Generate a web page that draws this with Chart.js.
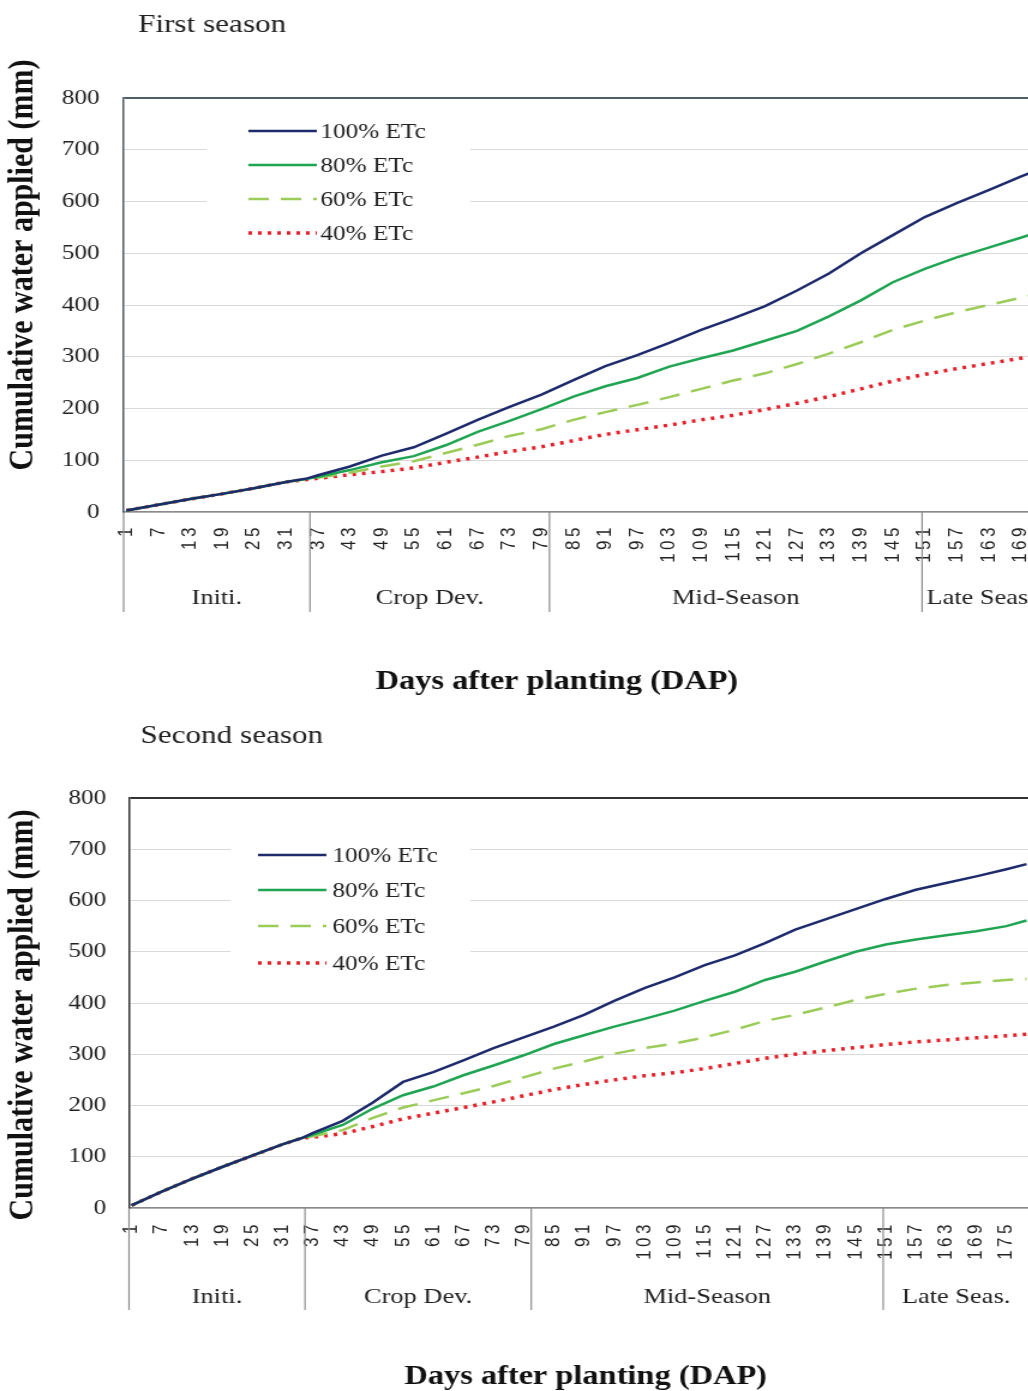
<!DOCTYPE html>
<html>
<head>
<meta charset="utf-8">
<title>Cumulative water applied</title>
<script src="https://cdn.jsdelivr.net/npm/chart.js@4.4.0/dist/chart.umd.min.js"></script>
<style>
  html, body { margin: 0; padding: 0; background: #fff; overflow: hidden; width: 1028px; height: 1391px; }
  canvas { position: absolute; left: 0; }
</style>
</head>
<body>
<!-- the original figure is a horizontally stretched picture: draw at 870px, show at 1044px -->
<canvas id="season1" width="870" height="700" style="top:0;width:1044px;height:700px"></canvas>
<canvas id="season2" width="870" height="691" style="top:700px;width:1044px;height:691px"></canvas>
<script>
// ---------- data ----------
const SERIES_NAMES = ['100% ETc', '80% ETc', '60% ETc', '40% ETc'];
const STAGE_NAMES = ['Initi.', 'Crop Dev.', 'Mid-Season', 'Late Seas.'];
const STAGE_STARTS = [1, 36, 81, 151];   // first day of each growth stage

// First season
const DAYS_1 = [1, 7, 13, 19, 25, 31, 35, 37, 43, 49, 55, 61, 67, 73, 79, 85, 91, 97, 103, 109, 115, 121, 127, 133, 139, 145, 151, 157, 163, 169, 172];
const ETC100_1 = [3, 14, 25, 35, 46, 58, 65, 71, 88, 109, 125, 151, 178, 203, 227, 255, 282, 303, 327, 352, 374, 398, 428, 461, 500, 535, 570, 597, 622, 648, 660];
const ETC80_1 = [3, 14, 25, 35, 46, 58, 64, 68, 81, 96, 108, 129, 155, 176, 199, 223, 243, 259, 281, 297, 312, 331, 350, 378, 409, 444, 470, 492, 511, 530, 540];
const ETC60_1 = [3, 14, 25, 35, 46, 58, 64, 66, 76, 88, 98, 114, 130, 147, 160, 178, 193, 207, 222, 238, 254, 268, 286, 306, 328, 352, 370, 386, 400, 414, 421];
const ETC40_1 = [3, 14, 25, 35, 46, 58, 63, 65, 72, 78, 85, 96, 106, 117, 126, 138, 150, 159, 168, 178, 187, 198, 210, 223, 238, 253, 266, 277, 287, 297, 302];
const TICKS_1 = [1, 7, 13, 19, 25, 31, 37, 43, 49, 55, 61, 67, 73, 79, 85, 91, 97, 103, 109, 115, 121, 127, 133, 139, 145, 151, 157, 163, 169];
const LAST_DAY_1 = 172;

// Second season
const DAYS_2 = [1, 7, 13, 19, 25, 31, 35, 37, 43, 49, 55, 61, 67, 73, 79, 85, 91, 97, 103, 109, 115, 121, 127, 133, 139, 145, 151, 157, 163, 169, 175, 179];
const ETC100_2 = [5, 32, 57, 80, 102, 124, 137, 146, 170, 206, 246, 265, 288, 312, 333, 354, 377, 404, 429, 450, 474, 493, 517, 543, 563, 583, 603, 621, 634, 647, 661, 671];
const ETC80_2 = [5, 32, 57, 80, 102, 124, 137, 143, 162, 194, 220, 237, 259, 278, 298, 320, 337, 354, 369, 385, 404, 422, 445, 461, 481, 500, 514, 524, 532, 540, 550, 561];
const ETC60_2 = [5, 32, 57, 80, 102, 124, 137, 140, 152, 176, 196, 210, 224, 238, 255, 272, 286, 301, 312, 321, 333, 348, 365, 377, 391, 406, 418, 428, 435, 440, 445, 447];
const ETC40_2 = [5, 32, 57, 80, 102, 124, 137, 138, 145, 159, 174, 185, 196, 207, 219, 231, 241, 250, 258, 264, 272, 282, 292, 300, 307, 313, 319, 324, 328, 332, 336, 339];
const TICKS_2 = [1, 7, 13, 19, 25, 31, 37, 43, 49, 55, 61, 67, 73, 79, 85, 91, 97, 103, 109, 115, 121, 127, 133, 139, 145, 151, 157, 163, 169, 175];
const LAST_DAY_2 = 179;

// ---------- styles ----------
const SERIF = '"Liberation Serif", "Times New Roman", serif';
const SANS = '"Liberation Sans", Arial, sans-serif';
const LINE_STYLES = [
  { color: '#1d2a6b', width: 2.5, dash: [] },
  { color: '#1fa552', width: 2.5, dash: [] },
  { color: '#9bcc58', width: 2.5, dash: [17, 10] },
  { color: '#e3222b', width: 3.5, dash: [3, 5] }
];

// draws titles, rotated day labels, growth stage row and the inner legend
const seasonDecor = {
  id: 'seasonDecor',
  afterDraw(chart, args, o) {
    const { ctx, chartArea: a } = chart;
    const x = chart.scales.x;
    ctx.save();

    // legend box (covers the grid lines)
    ctx.fillStyle = '#fff';
    ctx.fillRect(o.legend.box[0], o.legend.box[1], o.legend.box[2], o.legend.box[3]);
    SERIES_NAMES.forEach((name, i) => {
      const st = LINE_STYLES[i];
      const y = o.legend.rows[i];
      ctx.beginPath();
      ctx.strokeStyle = st.color;
      ctx.lineWidth = st.width;
      ctx.setLineDash(st.dash);
      ctx.moveTo(o.legend.x0, y);
      ctx.lineTo(o.legend.x1, y);
      ctx.stroke();
      ctx.setLineDash([]);
      ctx.fillStyle = '#222';
      ctx.font = '21px ' + SERIF;
      ctx.textAlign = 'left';
      ctx.textBaseline = 'middle';
      ctx.fillText(name, o.legend.textX, y + 1);
    });

    // rotated day labels
    ctx.fillStyle = '#222';
    ctx.font = '17px ' + SANS;
    ctx.textAlign = 'right';
    ctx.textBaseline = 'middle';
    if ('letterSpacing' in ctx) ctx.letterSpacing = '3.5px';
    o.ticks.forEach(d => {
      ctx.save();
      ctx.translate(x.getPixelForValue(d), a.bottom + o.tickGap);
      ctx.rotate(-Math.PI / 2);
      ctx.fillText(String(d), 0, 0);
      ctx.restore();
    });
    if ('letterSpacing' in ctx) ctx.letterSpacing = '0px';

    // growth stage separators and names
    ctx.strokeStyle = '#8c8c8c';
    ctx.lineWidth = 1.2;
    const bounds = STAGE_STARTS.map(s => x.getPixelForValue(s - 0.5));
    bounds.forEach(px => {
      ctx.beginPath();
      ctx.moveTo(px, a.bottom);
      ctx.lineTo(px, o.sepBottom);
      ctx.stroke();
    });
    ctx.fillStyle = '#222';
    ctx.font = '22px ' + SERIF;
    ctx.textAlign = 'center';
    STAGE_NAMES.forEach((name, i) => {
      const right = i < bounds.length - 1 ? bounds[i + 1] : x.right;
      ctx.fillText(name, (bounds[i] + right) / 2, o.stageY);
    });

    // chart title
    ctx.font = '26px ' + SERIF;
    ctx.textAlign = 'left';
    ctx.fillText(o.title, o.titleX, o.titleY);

    // x axis title
    ctx.font = 'bold 27px ' + SERIF;
    ctx.textAlign = 'center';
    ctx.fillStyle = '#111';
    ctx.fillText('Days after planting (DAP)', o.xTitleX, o.xTitleY);

    // y axis title
    ctx.save();
    ctx.translate(o.yTitleX, o.yTitleY);
    ctx.rotate(-Math.PI / 2);
    ctx.font = 'bold 30px ' + SERIF;
    ctx.fillText('Cumulative water applied (mm)', 0, 0);
    ctx.restore();

    ctx.restore();
  }
};

function makeSeason(id, days, series, lastDay, L) {
  const datasets = series.map((vals, i) => ({
    label: SERIES_NAMES[i],
    data: days.map((d, k) => ({ x: d, y: vals[k] })),
    borderColor: LINE_STYLES[i].color,
    borderWidth: LINE_STYLES[i].width,
    borderDash: LINE_STYLES[i].dash,
    pointRadius: 0,
    tension: 0,
    fill: false
  }));

  return new Chart(document.getElementById(id), {
    type: 'line',
    data: { datasets },
    options: {
      responsive: false,
      devicePixelRatio: 1,
      animation: false,
      events: [],
      layout: { padding: { top: L.top, right: L.right, left: 0, bottom: 0 } },
      scales: {
        x: {
          type: 'linear',
          bounds: 'data',
          min: 0.5,
          max: lastDay + 0.5,
          ticks: { display: false },
          grid: { display: false },
          border: { display: true, color: '#8a8a8a', width: 1.5 },
          afterFit: s => { s.height = L.xHeight; }
        },
        y: {
          min: 0,
          max: 800,
          ticks: {
            stepSize: 100,
            padding: L.yPad,
            color: '#222',
            font: { family: SERIF, size: 21 }
          },
          grid: {
            drawTicks: false,
            color: c => c.tick.value === 800 ? L.topColor : '#d9d9d9',
            lineWidth: c => c.tick.value === 800 ? 2 : 1
          },
          border: { display: true, color: L.topColor, width: 1.5 },
          afterFit: s => { s.width = L.left; }
        }
      },
      plugins: {
        legend: { display: false },
        tooltip: { enabled: false },
        seasonDecor: L.decor
      }
    },
    plugins: [seasonDecor]
  });
}

makeSeason('season1', DAYS_1, [ETC100_1, ETC80_1, ETC60_1, ETC40_1], LAST_DAY_1, {
  top: 98, right: 4, left: 103, xHeight: 188, yPad: 20, topColor: '#505c69',
  decor: {
    title: 'First season', titleX: 115, titleY: 25,
    ticks: TICKS_1, tickGap: 12, sepBottom: 612, stageY: 598,
    xTitleX: 464, xTitleY: 682, yTitleX: 19, yTitleY: 265,
    legend: { box: [172, 110, 220, 140], x0: 207, x1: 264, textX: 267, rows: [131, 165, 199, 233] }
  }
});

makeSeason('season2', DAYS_2, [ETC100_2, ETC80_2, ETC60_2, ETC40_2], LAST_DAY_2, {
  top: 98, right: 12.5, left: 107.5, xHeight: 183, yPad: 19, topColor: '#333333',
  decor: {
    title: 'Second season', titleX: 117, titleY: 36,
    ticks: TICKS_2, tickGap: 13, sepBottom: 610, stageY: 597,
    xTitleX: 488, xTitleY: 677, yTitleX: 19, yTitleY: 315,
    legend: { box: [192, 133, 200, 154], x0: 215, x1: 272, textX: 277, rows: [155, 190, 226, 263] }
  }
});
</script>
</body>
</html>
